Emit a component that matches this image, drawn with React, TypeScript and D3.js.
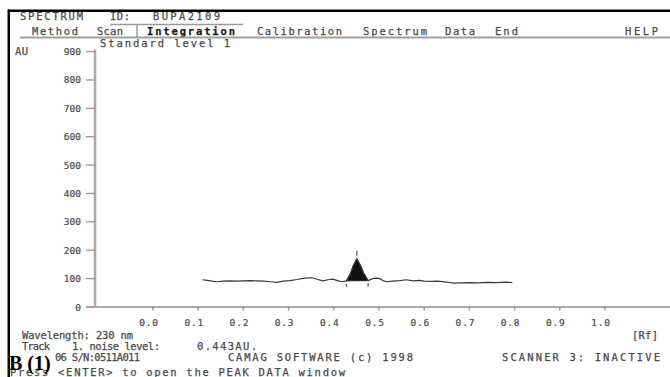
import React from "react";
import * as d3 from "d3";

// ---- data ----
const rfValues = [
  0.110, 0.120, 0.130, 0.142, 0.155, 0.170, 0.185, 0.200, 0.215, 0.230,
  0.245, 0.260, 0.274, 0.288, 0.303, 0.319, 0.335, 0.352, 0.365, 0.376,
  0.387, 0.398, 0.410, 0.418, 0.428, 0.436, 0.443, 0.451, 0.458, 0.466,
  0.476, 0.487, 0.495, 0.502, 0.510, 0.518, 0.530, 0.546, 0.560, 0.575,
  0.590, 0.600, 0.615, 0.630, 0.650, 0.665, 0.680, 0.700, 0.720, 0.740,
  0.760, 0.780, 0.795,
];
const auValues = [
  96, 94, 91, 89, 91, 92, 91, 92, 93, 92,
  91, 89, 87, 91, 93, 97, 102, 103, 97, 92,
  96, 98, 92, 89, 92, 115, 145, 170, 150, 120,
  93, 101, 102, 100, 92, 89, 91, 93, 96, 92,
  94, 91, 90, 91, 88, 84, 85, 86, 85, 87,
  86, 88, 86,
];
const peakStartIndex = 24;
const peakEndIndex = 30;

const yTicks = [0, 100, 200, 300, 400, 500, 600, 700, 800, 900];
const xTicks = [0.0, 0.1, 0.2, 0.3, 0.4, 0.5, 0.6, 0.7, 0.8, 0.9, 1.0];

const menuItems = [
  { label: "Method", x: 32, w: 46 },
  { label: "Scan", x: 97, w: 26 },
  { label: "Integration", x: 147, w: 88, bold: true },
  { label: "Calibration", x: 257, w: 85 },
  { label: "Spectrum", x: 363, w: 64 },
  { label: "Data", x: 445, w: 30 },
  { label: "End", x: 495, w: 23 },
  { label: "HELP", x: 625, w: 33 },
];

const W = 670;
const H = 377;
const MONO = "'DejaVu Sans Mono', 'Liberation Mono', monospace";
const TXT = "#4a4a4a";

export default function App() {
  const x = d3.scaleLinear().domain([0, 1]).range([153, 605]);
  const y = d3.scaleLinear().domain([0, 900]).range([307, 51.6]);

  const pts = rfValues.map((r, i) => [r, auValues[i]] as [number, number]);
  const line = d3
    .line<[number, number]>()
    .x((d) => x(d[0]))
    .y((d) => y(d[1]));

  const s = pts[peakStartIndex];
  const e = pts[peakEndIndex];
  const peakPts = pts.slice(peakStartIndex, peakEndIndex + 1);
  const base = (r: number) => s[1] + ((r - s[0]) / (e[0] - s[0])) * (e[1] - s[1]);
  const area = d3
    .area<[number, number]>()
    .x((d) => x(d[0]))
    .y0((d) => y(base(d[0])))
    .y1((d) => y(d[1]));

  const apex = peakPts.reduce((a, b) => (b[1] > a[1] ? b : a));

  const T = (props: any) => (
    <text
      fontFamily={MONO}
      fontSize={10.5}
      fill={TXT}
      stroke={props.fill || TXT}
      strokeWidth={0.25}
      lengthAdjust="spacing"
      {...props}
    />
  );

  return (
    <svg
      width={W}
      height={H}
      style={{ position: "absolute", left: 0, top: 0, background: "#fff" }}
    >
      <rect x={0} y={0} width={W} height={H} fill="#fff" />

      {/* header */}
      <T x={20} y={20} textLength={63}>SPECTRUM</T>
      <T x={110} y={20} textLength={20}>ID:</T>
      <T x={153} y={20} textLength={67}>BUPA2109</T>
      <line x1={110} x2={243} y1={24.5} y2={24.5} stroke="#9a9a9a" strokeWidth={1.5} />
      <line x1={137} x2={137} y1={24.5} y2={37} stroke="#9a9a9a" strokeWidth={1.5} />

      {menuItems.map((m) => (
        <T
          key={m.label}
          x={m.x}
          y={34.5}
          textLength={m.w}
          fontWeight={m.bold ? "bold" : "normal"}
          fill={m.bold ? "#1a1a1a" : TXT}
        >
          {m.label}
        </T>
      ))}
      <line x1={20} x2={W} y1={37.5} y2={37.5} stroke="#a0a0a0" strokeWidth={2} />

      <T x={100} y={47} textLength={130}>Standard level 1</T>
      <T x={15} y={55} textLength={13}>AU</T>

      {/* axes */}
      <line x1={95} x2={95} y1={y(900) - 2} y2={y(0)} stroke="#aaa" strokeWidth={2.5} />
      <line x1={86} x2={W} y1={y(0)} y2={y(0)} stroke="#aaa" strokeWidth={2} />
      {yTicks.map((t) => (
        <g key={t}>
          <line x1={86} x2={95} y1={y(t)} y2={y(t)} stroke="#999" strokeWidth={1.3} />
          <text
            x={81}
            y={y(t) + 3.5}
            textAnchor="end"
            fontFamily={MONO}
            fontSize={9.5}
            fill={TXT}
            stroke={TXT}
            strokeWidth={0.2}
          >
            {t}
          </text>
        </g>
      ))}
      {xTicks.map((t) => (
        <g key={t}>
          <line x1={x(t)} x2={x(t)} y1={y(0)} y2={y(0) + 3.5} stroke="#999" strokeWidth={1.5} />
          <text
            x={x(t) - 4}
            y={325.5}
            textAnchor="middle"
            fontFamily={MONO}
            fontSize={9.5}
            letterSpacing={0.8}
            fill={TXT}
            stroke={TXT}
            strokeWidth={0.2}
          >
            {t.toFixed(1)}
          </text>
        </g>
      ))}

      {/* curve */}
      <path d={area(peakPts) || ""} fill="#111" stroke="#111" strokeWidth={0.8} />
      <path d={line(pts) || ""} fill="none" stroke="#3a3a3a" strokeWidth={1.2} />
      <line
        x1={x(apex[0])}
        x2={x(apex[0])}
        y1={y(apex[1]) - 8}
        y2={y(apex[1]) - 3}
        stroke="#555"
        strokeWidth={1.2}
      />
      <line x1={x(s[0])} x2={x(s[0])} y1={y(s[1]) + 3} y2={y(s[1]) + 6} stroke="#666" strokeWidth={1.5} />
      <line x1={x(e[0])} x2={x(e[0])} y1={y(e[1]) + 3} y2={y(e[1]) + 6} stroke="#666" strokeWidth={1.5} />

      {/* footer */}
      <T x={22} y={339} textLength={111}>Wavelength: 230 nm</T>
      <T x={632} y={339} textLength={26}>[Rf]</T>
      <T x={22} y={349.5} textLength={28}>Track</T>
      <T x={72} y={349.5} textLength={88}>1. noise level:</T>
      <T x={197} y={349.5} textLength={60}>0.443AU.</T>
      <T x={55} y={361} textLength={85}>06 S/N:0511A011</T>
      <T x={228} y={361} textLength={185}>CAMAG SOFTWARE (c) 1998</T>
      <T x={502} y={361} textLength={158}>SCANNER 3: INACTIVE</T>
      <T x={10} y={375.5} textLength={335}>Press &lt;ENTER&gt; to open the PEAK DATA window</T>

      <text
        x={9}
        y={370}
        fontFamily="'Liberation Serif', 'Times New Roman', serif"
        fontWeight="bold"
        fontSize={20}
        fill="#000"
      >
        B (1)
      </text>

      {/* border */}
      <rect x={8} y={9.5} width={W - 8} height={2.5} fill="#000" />
      <rect x={7.5} y={9.5} width={2.5} height={H - 9.5} fill="#000" />
    </svg>
  );
}
